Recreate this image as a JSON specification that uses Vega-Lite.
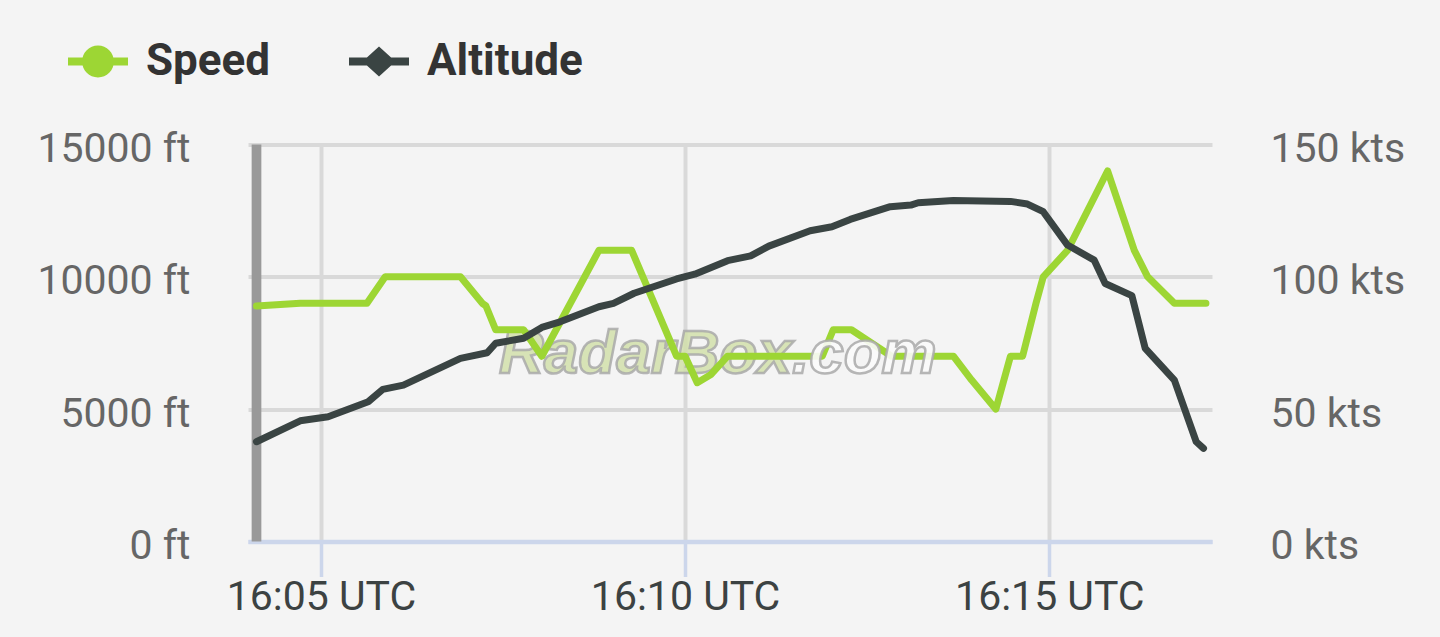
{
  "$schema": "https://vega.github.io/schema/vega-lite/v6.json",
  "width": 964,
  "height": 397,
  "autosize": {"type": "none"},
  "padding": {"left": 248, "top": 144.5, "right": 228, "bottom": 95.5},
  "background": "#f4f4f4",
  "config": {"view": {"stroke": null}, "font": "Roboto"},
  "datasets": {
    "speed": [
      {"t": "2024-01-01T16:04:07Z", "v": 89},
      {"t": "2024-01-01T16:04:43Z", "v": 90},
      {"t": "2024-01-01T16:05:38Z", "v": 90},
      {"t": "2024-01-01T16:05:53Z", "v": 100},
      {"t": "2024-01-01T16:06:55Z", "v": 100},
      {"t": "2024-01-01T16:07:13Z", "v": 90},
      {"t": "2024-01-01T16:07:16Z", "v": 89},
      {"t": "2024-01-01T16:07:24Z", "v": 80},
      {"t": "2024-01-01T16:07:47Z", "v": 80},
      {"t": "2024-01-01T16:08:02Z", "v": 70},
      {"t": "2024-01-01T16:08:49Z", "v": 110},
      {"t": "2024-01-01T16:09:16Z", "v": 110},
      {"t": "2024-01-01T16:09:53Z", "v": 70},
      {"t": "2024-01-01T16:10:00Z", "v": 70},
      {"t": "2024-01-01T16:10:10Z", "v": 60},
      {"t": "2024-01-01T16:10:21Z", "v": 63},
      {"t": "2024-01-01T16:10:35Z", "v": 70},
      {"t": "2024-01-01T16:11:53Z", "v": 70},
      {"t": "2024-01-01T16:12:02Z", "v": 80},
      {"t": "2024-01-01T16:12:17Z", "v": 80},
      {"t": "2024-01-01T16:12:50Z", "v": 70},
      {"t": "2024-01-01T16:13:41Z", "v": 70},
      {"t": "2024-01-01T16:13:56Z", "v": 61},
      {"t": "2024-01-01T16:14:16Z", "v": 50},
      {"t": "2024-01-01T16:14:28Z", "v": 70},
      {"t": "2024-01-01T16:14:38Z", "v": 70},
      {"t": "2024-01-01T16:14:49Z", "v": 90},
      {"t": "2024-01-01T16:14:55Z", "v": 100},
      {"t": "2024-01-01T16:15:15Z", "v": 110},
      {"t": "2024-01-01T16:15:48Z", "v": 140},
      {"t": "2024-01-01T16:16:10Z", "v": 110},
      {"t": "2024-01-01T16:16:21Z", "v": 100},
      {"t": "2024-01-01T16:16:43Z", "v": 90},
      {"t": "2024-01-01T16:17:09Z", "v": 90}
    ],
    "alt": [
      {"t": "2024-01-01T16:04:07Z", "a": 3770},
      {"t": "2024-01-01T16:04:43Z", "a": 4560},
      {"t": "2024-01-01T16:05:06Z", "a": 4715},
      {"t": "2024-01-01T16:05:39Z", "a": 5280},
      {"t": "2024-01-01T16:05:51Z", "a": 5750},
      {"t": "2024-01-01T16:06:08Z", "a": 5910},
      {"t": "2024-01-01T16:06:55Z", "a": 6920},
      {"t": "2024-01-01T16:07:17Z", "a": 7130},
      {"t": "2024-01-01T16:07:24Z", "a": 7490},
      {"t": "2024-01-01T16:07:47Z", "a": 7680},
      {"t": "2024-01-01T16:08:02Z", "a": 8090},
      {"t": "2024-01-01T16:08:17Z", "a": 8300},
      {"t": "2024-01-01T16:08:49Z", "a": 8870},
      {"t": "2024-01-01T16:09:01Z", "a": 9000},
      {"t": "2024-01-01T16:09:18Z", "a": 9380},
      {"t": "2024-01-01T16:09:53Z", "a": 9920},
      {"t": "2024-01-01T16:10:08Z", "a": 10100},
      {"t": "2024-01-01T16:10:35Z", "a": 10610},
      {"t": "2024-01-01T16:10:54Z", "a": 10790},
      {"t": "2024-01-01T16:11:09Z", "a": 11160},
      {"t": "2024-01-01T16:11:43Z", "a": 11740},
      {"t": "2024-01-01T16:12:01Z", "a": 11890},
      {"t": "2024-01-01T16:12:16Z", "a": 12170},
      {"t": "2024-01-01T16:12:49Z", "a": 12650},
      {"t": "2024-01-01T16:13:06Z", "a": 12710},
      {"t": "2024-01-01T16:13:12Z", "a": 12800},
      {"t": "2024-01-01T16:13:41Z", "a": 12880},
      {"t": "2024-01-01T16:14:28Z", "a": 12850},
      {"t": "2024-01-01T16:14:42Z", "a": 12750},
      {"t": "2024-01-01T16:14:55Z", "a": 12460},
      {"t": "2024-01-01T16:15:15Z", "a": 11200},
      {"t": "2024-01-01T16:15:37Z", "a": 10630},
      {"t": "2024-01-01T16:15:46Z", "a": 9750},
      {"t": "2024-01-01T16:16:08Z", "a": 9290},
      {"t": "2024-01-01T16:16:19Z", "a": 7300},
      {"t": "2024-01-01T16:16:43Z", "a": 6100},
      {"t": "2024-01-01T16:17:01Z", "a": 3770},
      {"t": "2024-01-01T16:17:07Z", "a": 3520}
    ],
    "band": [
      {"t0": "2024-01-01T16:04:03Z", "t1": "2024-01-01T16:04:11Z", "lo": 0, "hi": 150}
    ],
    "wm": [
      {"t": "2024-01-01T16:11:28Z", "v": 63.7, "a": "RadarBox", "b": ".com"}
    ]
  },
  "layer": [
    {
      "layer": [
        {
          "data": {"name": "band"},
          "mark": {"type": "rect", "color": "#999999"},
          "encoding": {
            "x": {
              "field": "t0", "type": "temporal", "title": null,
              "scale": {"type": "utc", "domain": [{"year": 2024, "month": 1, "date": 1, "hours": 16, "minutes": 4, "seconds": 0, "utc": true}, {"year": 2024, "month": 1, "date": 1, "hours": 16, "minutes": 17, "seconds": 14, "utc": true}]},
              "axis": {
                "values": [
                  {"year": 2024, "month": 1, "date": 1, "hours": 16, "minutes": 5, "utc": true},
                  {"year": 2024, "month": 1, "date": 1, "hours": 16, "minutes": 10, "utc": true},
                  {"year": 2024, "month": 1, "date": 1, "hours": 16, "minutes": 15, "utc": true}
                ],
                "labelExpr": "utcFormat(datum.value, '%H:%M') + ' UTC'",
                "labelFont": "Roboto", "labelFontSize": 41, "labelColor": "#3c4242",
                "labelPadding": 1, "labelFlush": false, "labelOverlap": false, "labelLimit": 0,
                "grid": true, "gridColor": "#d9d9d9", "gridWidth": 4,
                "domainColor": "#ccd6eb", "domainWidth": 4.5,
                "ticks": true, "tickColor": "#ccd6eb", "tickWidth": 3.5, "tickSize": 35, "tickOpacity": 1
              }
            },
            "x2": {"field": "t1"},
            "y": {
              "field": "lo", "type": "quantitative", "title": null,
              "scale": {"domain": [0, 150], "nice": false},
              "axis": {
                "orient": "right", "values": [0, 50, 100, 150],
                "labelExpr": "datum.value + ' kts'",
                "labelFont": "Roboto", "labelFontSize": 41, "labelColor": "#666666",
                "labelPadding": 58, "labelOffset": 5, "labelBaseline": "middle",
                "labelFlush": false, "labelOverlap": false, "labelBound": false, "labelLimit": 0,
                "grid": false, "ticks": false, "domain": false
              }
            },
            "y2": {"field": "hi"}
          }
        },
        {
          "data": {"name": "wm"},
          "mark": {"type": "text", "align": "right", "baseline": "alphabetic", "font": "Liberation Sans", "fontSize": 62, "fontStyle": "italic", "fontWeight": "bold", "fill": "#cfdea6", "fillOpacity": 0.8, "stroke": "#a9a9a9", "strokeWidth": 2.5, "strokeOpacity": 0.85},
          "encoding": {
            "x": {"field": "t", "type": "temporal", "title": null},
            "y": {"field": "v", "type": "quantitative", "title": null, "scale": {"domain": [0, 150], "nice": false}},
            "text": {"field": "a"}
          }
        },
        {
          "data": {"name": "speed"},
          "mark": {"type": "line", "strokeWidth": 7, "strokeCap": "round", "strokeJoin": "round"},
          "encoding": {
            "x": {"field": "t", "type": "temporal", "title": null},
            "y": {"field": "v", "type": "quantitative", "title": null, "scale": {"domain": [0, 150], "nice": false}},
            "color": {
              "datum": "Speed", "type": "nominal",
              "scale": {"domain": ["Speed", "Altitude"], "range": ["#9dd634", "#3a4443"]},
              "legend": {
                "title": null, "orient": "none", "legendX": -180, "legendY": -113,
                "direction": "horizontal", "padding": 0,
                "symbolSize": 3600, "symbolStrokeWidth": 0,
                "labelFont": "Roboto", "labelFontSize": 44, "labelFontWeight": "bold", "labelColor": "#333333",
                "labelOffset": 18, "columnPadding": 78,
                "encode": {
                  "symbols": {
                    "update": {
                      "shape": {"signal": "datum.value === 'Speed' ? 'M-1,-0.13H1V0.13H-1Z M0.53,0A0.53,0.53 0 1,1 -0.53,0A0.53,0.53 0 1,1 0.53,0Z' : 'M-1,-0.13H1V0.13H-1Z M0,-0.5L0.55,0L0,0.5L-0.55,0Z'"},
                      "fill": {"signal": "datum.value === 'Speed' ? '#9dd634' : '#3a4443'"},
                      "fillOpacity": {"value": 1},
                      "stroke": {"value": "transparent"},
                      "strokeWidth": {"value": 0}
                    }
                  }
                }
              }
            }
          }
        },
        {
          "data": {"name": "wm"},
          "mark": {"type": "text", "align": "left", "baseline": "alphabetic", "font": "Liberation Sans", "fontSize": 62, "fontStyle": "italic", "fontWeight": "bold", "fill": "#fbfbfb", "fillOpacity": 0.9, "stroke": "#a9a9a9", "strokeWidth": 2.5, "strokeOpacity": 0.85},
          "encoding": {
            "x": {"field": "t", "type": "temporal", "title": null},
            "y": {"field": "v", "type": "quantitative", "title": null, "scale": {"domain": [0, 150], "nice": false}},
            "text": {"field": "b"}
          }
        }
      ]
    },
    {
      "data": {"name": "alt"},
      "mark": {"type": "line", "strokeWidth": 7, "strokeCap": "round", "strokeJoin": "round"},
      "encoding": {
        "x": {"field": "t", "type": "temporal", "title": null},
        "y": {
          "field": "a", "type": "quantitative", "title": null,
          "scale": {"domain": [0, 15000], "nice": false},
          "axis": {
            "orient": "left", "values": [0, 5000, 10000, 15000],
            "labelExpr": "datum.value + ' ft'",
            "labelFont": "Roboto", "labelFontSize": 41, "labelColor": "#666666",
            "labelPadding": 58, "labelOffset": 5, "labelBaseline": "middle",
            "labelFlush": false, "labelOverlap": false, "labelBound": false, "labelLimit": 0,
            "grid": true, "gridWidth": 4,
            "gridColor": {"condition": {"test": "datum.value === 0", "value": "#ccd6eb"}, "value": "#d9d9d9"},
            "ticks": false, "domain": false
          }
        },
        "color": {"datum": "Altitude", "type": "nominal"}
      }
    }
  ],
  "resolve": {"scale": {"y": "independent"}}
}
